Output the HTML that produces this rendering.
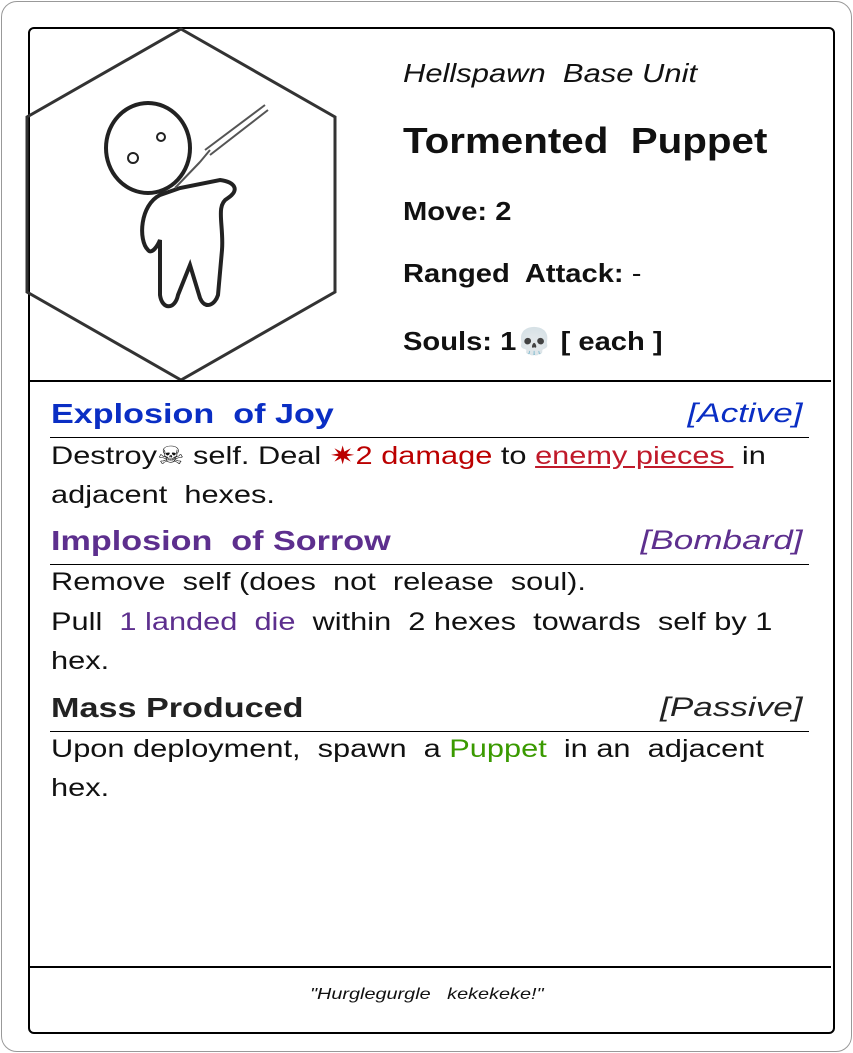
<!DOCTYPE html>
<html><head><meta charset="utf-8"><style>
body{margin:0;width:853px;height:1053px;background:#fff;position:relative;font-family:"Liberation Sans",sans-serif;overflow:hidden}
.abs{position:absolute;white-space:nowrap;transform-origin:left top}
.outer{position:absolute;left:1px;top:1px;width:849px;height:1049px;border:1px solid #999;border-radius:16px}
.inner{position:absolute;left:28px;top:27px;width:803px;height:1003px;border:2px solid #000;border-radius:6px}
.hr{position:absolute;left:30px;width:801px;height:2px;background:#000}
.title{font-size:28px;font-weight:bold;transform:scaleX(1.22)}
.tag{font-size:27px;font-style:italic;right:50px;transform-origin:right top;transform:scaleX(1.3)}
.rule{position:absolute;left:50px;width:759px;height:1px;background:#000}
.body{font-size:25px;color:#111;left:51px;transform:scaleX(1.23)}
.stat{left:403px;font-size:26px;font-weight:bold;color:#111;transform:scaleX(1.12)}
</style></head><body>
<div class="outer"></div>
<div class="inner"></div>
<svg class="abs" style="left:0;top:0" width="360" height="390">
<polygon points="181,29 335,117 335,292 181,380 27,292 27,117" fill="none" stroke="#333" stroke-width="3"/>
<g fill="#fff" stroke="#222" stroke-width="4">
<path d="M160,195 C140,205 138,240 148,250 C152,255 158,245 160,240 L160,295 C162,310 175,310 178,295 L190,265 L200,298 C205,310 215,305 218,295 L222,250 C224,225 215,205 228,198 C240,190 235,182 220,180 L180,188 Z"/>
<ellipse cx="148" cy="148" rx="42" ry="45"/>
</g>
<circle cx="133" cy="158" r="5" fill="none" stroke="#222" stroke-width="2"/>
<circle cx="161" cy="137" r="4" fill="none" stroke="#222" stroke-width="2"/>
<path d="M175,188 L200,162 M205,150 L265,105 M210,155 L268,110 M200,162 L210,150" stroke="#555" stroke-width="2" fill="none"/>
</svg>
<div class="abs" style="left:403px;top:58px;font-size:26px;font-style:italic;color:#111;transform:scaleX(1.19)">Hellspawn&nbsp; Base Unit</div>
<div class="abs" style="left:403px;top:120px;font-size:36px;color:#111;font-weight:bold;transform:scaleX(1.12)">Tormented&nbsp; Puppet</div>
<div class="abs stat" style="top:196px">Move: 2</div>
<div class="abs stat" style="top:258px">Ranged&nbsp; Attack: <span style="font-weight:normal">-</span></div>
<div class="abs stat" style="top:326px">Souls: 1💀 [ each ]</div>
<div class="hr" style="top:380px"></div>

<div class="abs title" style="left:51px;top:398px;color:#0a2ec4">Explosion&nbsp; of Joy</div>
<div class="abs tag" style="top:398px;color:#0a2ec4">[Active]</div>
<div class="rule" style="top:437px"></div>
<div class="abs body" style="top:441px">Destroy☠ self. Deal <span style="color:#b00">✷2 damage</span> to <span style="color:#c01a2a;text-decoration:underline">enemy pieces&nbsp;</span> in</div>
<div class="abs body" style="top:481px">adjacent&nbsp; hexes.</div>

<div class="abs title" style="left:51px;top:525px;color:#5d2f8e">Implosion&nbsp; of Sorrow</div>
<div class="abs tag" style="top:525px;color:#5d2f8e">[Bombard]</div>
<div class="rule" style="top:564px"></div>
<div class="abs body" style="top:568px">Remove&nbsp; self (does&nbsp; not&nbsp; release&nbsp; soul).</div>
<div class="abs body" style="top:608px">Pull&nbsp; <span style="color:#5d2f8e">1 landed&nbsp; die</span>&nbsp; within&nbsp; 2 hexes&nbsp; towards&nbsp; self by 1</div>
<div class="abs body" style="top:647px">hex.</div>

<div class="abs title" style="left:51px;top:692px;color:#222">Mass Produced</div>
<div class="abs tag" style="top:692px;color:#222">[Passive]</div>
<div class="rule" style="top:731px"></div>
<div class="abs body" style="top:735px">Upon deployment,&nbsp; spawn&nbsp; a <span style="color:#3a9a00">Puppet</span>&nbsp; in an&nbsp; adjacent</div>
<div class="abs body" style="top:774px">hex.</div>

<div class="hr" style="top:966px"></div>
<div class="abs" style="left:310px;top:986px;font-size:16px;font-style:italic;color:#111;transform:scaleX(1.24)">"Hurglegurgle&nbsp;&nbsp; kekekeke!"</div>
</body></html>
